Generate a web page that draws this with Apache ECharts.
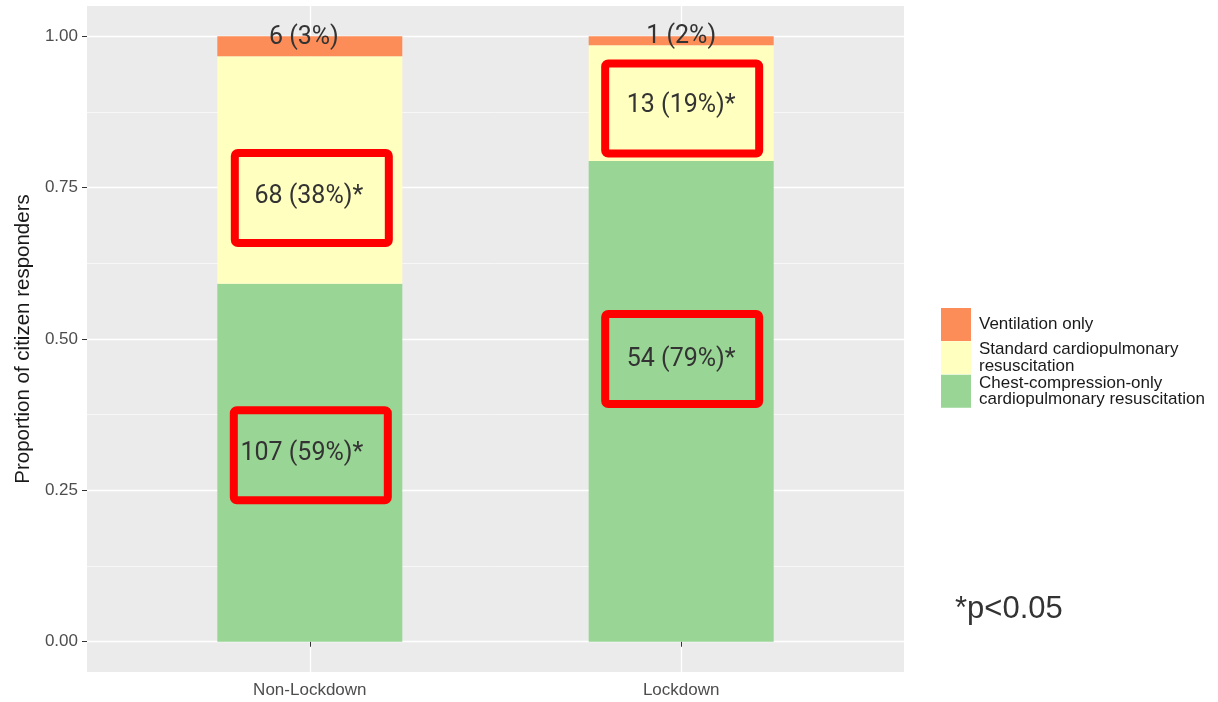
<!DOCTYPE html>
<html>
<head>
<meta charset="utf-8">
<script src="https://cdn.jsdelivr.net/npm/echarts@6/dist/echarts.min.js"></script>
<style>
html,body{margin:0;padding:0;background:#fff;}
#chart{width:1218px;height:702px;}
</style>
</head>
<body>
<div id="chart"></div>
<script>
// ---- data ----
const categories = ['Non-Lockdown', 'Lockdown'];
const chestCompressionOnly = [107, 54];
const standardCPR = [68, 13];
const ventilationOnly = [6, 1];
const seriesNames = [
  'Chest-compression-only\ncardiopulmonary resuscitation',
  'Standard cardiopulmonary\nresuscitation',
  'Ventilation only'
];
const yTicks = [0, 0.25, 0.5, 0.75, 1];
const yMinorTicks = [0.125, 0.375, 0.625, 0.875];
const xTicks = [1, 2];
// text annotations (category index, y in proportion units, text)
const labelCat = [0, 0, 0, 1, 1, 1];
const labelY = [0.31, 0.735, 0.998, 0.466, 0.886, 1.0];
const labelText = ['107 (59%)*', '68 (38%)*', '6 (3%)', '54 (79%)*', '13 (19%)*', '1 (2%)'];
// highlight boxes (category index, y centre in proportion units)
const boxCat = [0, 0, 1, 1];
const boxY = [0.308, 0.733, 0.467, 0.8806];
const footnote = '*p<0.05';

// ---- derived ----
const totals = categories.map((c, i) => chestCompressionOnly[i] + standardCPR[i] + ventilationOnly[i]);
// value first, category position second (so the stack runs on the value dimension)
const share = arr => arr.map((v, i) => [v / totals[i], i + 1]);
const colors = ['#99D594', '#FFFFBF', '#FC8D59'];
const labelOffsetX = [-8, -1, -6, 0, 0, 0];
const boxOffsetX = [1, 2, 1, 1];
const BOX_W = 154, BOX_H = 90;

const chart = echarts.init(document.getElementById('chart'), null, {renderer: 'canvas'});

const barSeries = [chestCompressionOnly, standardCPR, ventilationOnly].map((arr, k) => ({
  name: seriesNames[k],
  type: 'bar',
  stack: 'total',
  barWidth: 185,
  data: share(arr),
  encode: {x: 1, y: 0},
  itemStyle: {color: colors[k]},
  emphasis: {disabled: true},
  animation: false
}));

const axisFont = 'Liberation Sans, Arial, sans-serif';

const option = {
  animation: false,
  backgroundColor: '#ffffff',
  grid: {
    left: 87, right: 314, top: 6, bottom: 30,
    show: true, backgroundColor: '#EBEBEB', borderWidth: 0,
    containLabel: false, outerBoundsMode: 'none'
  },
  legend: {
    orient: 'vertical',
    left: 936, top: 303,
    itemWidth: 30, itemHeight: 33, itemGap: 0,
    icon: 'rect',
    data: [seriesNames[2], seriesNames[1], seriesNames[0]],
    textStyle: {
      fontFamily: axisFont,
      fontSize: 17, lineHeight: 16.5, color: '#1a1a1a',
      padding: [0, 0, 0, 3]
    },
    selectedMode: false
  },
  xAxis: {
    type: 'value', min: 0.4, max: 2.6,
    axisLine: {show: false},
    axisTick: {show: true, customValues: xTicks, length: 5, lineStyle: {color: '#333333', width: 1}},
    axisLabel: {
      customValues: xTicks, margin: 10,
      formatter: v => categories[Math.round(v) - 1] || '',
      fontFamily: axisFont, fontSize: 17, color: '#4D4D4D'
    },
    splitLine: {show: true, lineStyle: {color: '#ffffff', width: 1.3}}
  },
  yAxis: [{
    type: 'value', min: -0.05, max: 1.05,
    name: 'Proportion of citizen responders',
    nameLocation: 'middle', nameGap: 43,
    nameTextStyle: {fontFamily: axisFont, fontSize: 20.5, color: '#1a1a1a'},
    axisLine: {show: false},
    axisTick: {show: true, customValues: yTicks, length: 5, lineStyle: {color: '#333333', width: 1}},
    axisLabel: {
      customValues: yTicks, margin: 9,
      formatter: v => Number(v).toFixed(2),
      fontFamily: axisFont, fontSize: 17, color: '#4D4D4D'
    },
    splitLine: {show: true, lineStyle: {color: '#ffffff', width: 1.3}}
  }, {
    type: 'value', min: -0.05, max: 1.05, position: 'left',
    axisLine: {show: false},
    axisTick: {show: false, customValues: yMinorTicks},
    axisLabel: {show: false, customValues: yMinorTicks},
    splitLine: {show: true, lineStyle: {color: '#ffffff', width: 0.6}}
  }],
  graphic: [{
    type: 'text', left: 955, top: 594, z: 10,
    style: {text: footnote, fontFamily: axisFont, fontSize: 31, fill: '#333333'}
  }],
  series: [
    ...barSeries,
    {
      type: 'custom', name: 'boxes', silent: true, z: 5,
      coordinateSystem: 'cartesian2d',
      data: boxCat.map((c, i) => [c + 1, boxY[i]]),
      encode: {x: 0, y: 1},
      renderItem: (params, api) => {
        const p = api.coord([api.value(0), api.value(1)]);
        const cx = p[0] + boxOffsetX[params.dataIndex];
        return {
          type: 'rect',
          shape: {x: cx - BOX_W / 2, y: p[1] - BOX_H / 2, width: BOX_W, height: BOX_H, r: 3},
          style: {fill: 'none', stroke: '#FF0000', lineWidth: 8}
        };
      }
    },
    {
      type: 'custom', name: 'labels', silent: true, z: 6,
      coordinateSystem: 'cartesian2d',
      data: labelCat.map((c, i) => [c + 1, labelY[i]]),
      encode: {x: 0, y: 1},
      renderItem: (params, api) => {
        const p = api.coord([api.value(0), api.value(1)]);
        return {
          type: 'text',
          x: p[0] + labelOffsetX[params.dataIndex], y: p[1],
          style: {
            text: labelText[params.dataIndex],
            fontFamily: 'Roboto, sans-serif', fontSize: 25, fill: '#333333',
            align: 'center', verticalAlign: 'middle'
          }
        };
      }
    }
  ]
};
chart.setOption(option);
</script>
</body>
</html>
